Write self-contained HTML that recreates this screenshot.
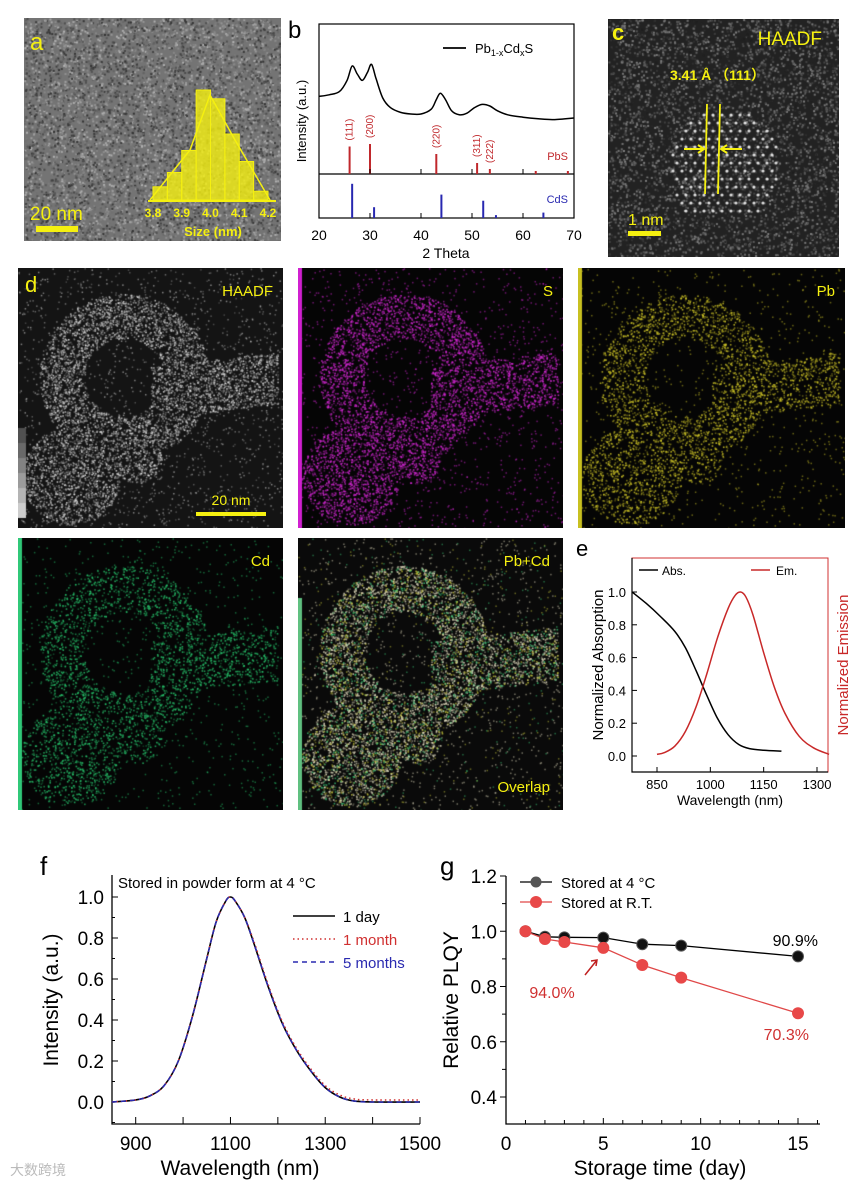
<!DOCTYPE html>
<html><head><meta charset="utf-8">
<style>
html,body{margin:0;padding:0;background:#fff;}
body{width:865px;height:1185px;position:relative;overflow:hidden;font-family:"Liberation Sans",Arial,sans-serif;}
canvas{position:absolute;}
svg{position:absolute;left:0;top:0;}
</style></head>
<body>
<canvas id="imgA" style="left:24px;top:18px" width="257" height="223"></canvas>
<canvas id="imgC" style="left:608px;top:19px" width="231" height="238"></canvas>
<canvas id="imgD1" style="left:18px;top:268px" width="265" height="260"></canvas>
<canvas id="imgD2" style="left:298px;top:268px" width="265" height="260"></canvas>
<canvas id="imgD3" style="left:578px;top:268px" width="267" height="260"></canvas>
<canvas id="imgD4" style="left:18px;top:538px" width="265" height="272"></canvas>
<canvas id="imgD5" style="left:298px;top:538px" width="265" height="272"></canvas>
<svg id="ov" width="865" height="1185" xmlns="http://www.w3.org/2000/svg" font-family="Liberation Sans, Arial, sans-serif"></svg>
<script>
// ---------- data ----------
const histBins=[3.8,3.85,3.9,3.95,4.0,4.05,4.1,4.15,4.2];
const histCounts=[0.12,0.25,0.45,1.0,0.92,0.6,0.35,0.08];
const xrdTheta=[20,22,24,25.5,26.5,27.5,28.5,29.5,30.3,31.2,32.5,34,36,38,40,42,43,43.8,44.8,46,47.5,49,50.5,52,53.5,55,57,60,63,66,70];
const xrdInt=[0.42,0.44,0.48,0.62,0.8,0.7,0.62,0.72,0.82,0.64,0.4,0.28,0.22,0.2,0.2,0.26,0.38,0.46,0.38,0.24,0.19,0.21,0.28,0.32,0.3,0.24,0.19,0.16,0.14,0.13,0.15];
const pbsPos=[26,30,43,51,53.5,62.5,68.8];
const pbsH=[0.55,0.6,0.4,0.22,0.1,0.06,0.06];
const pbsLabels=["(111)","(200)","(220)","(311)","(222)","",""];
const cdsPos=[26.5,30.8,44,52.2,54.7,64];
const cdsH=[0.95,0.3,0.65,0.48,0.08,0.15];
const absWl=[780,820,860,900,930,960,990,1020,1050,1080,1110,1150,1200];
const absVal=[1.0,0.93,0.85,0.76,0.66,0.52,0.37,0.23,0.13,0.07,0.045,0.035,0.03];
const emWl=[850,870,900,930,960,990,1020,1050,1070,1085,1100,1120,1150,1180,1210,1250,1290,1334];
const emVal=[0.01,0.02,0.06,0.15,0.3,0.5,0.72,0.9,0.98,1.0,0.97,0.86,0.63,0.42,0.26,0.12,0.05,0.01];
const fWl=[850,900,930,960,990,1020,1050,1070,1090,1100,1110,1130,1150,1180,1210,1240,1270,1300,1330,1360,1400,1500];
const fDay=[0,0.01,0.03,0.08,0.2,0.42,0.7,0.88,0.98,1.0,0.98,0.9,0.77,0.56,0.38,0.25,0.15,0.07,0.025,0.005,0,0];
const fMonth=[0,0.01,0.03,0.08,0.2,0.42,0.7,0.88,0.98,1.0,0.98,0.9,0.78,0.57,0.39,0.26,0.16,0.08,0.035,0.015,0.01,0.01];
const fMonth5=[0,0.01,0.03,0.08,0.2,0.42,0.7,0.88,0.98,1.0,0.98,0.9,0.77,0.56,0.38,0.25,0.15,0.07,0.025,0.005,0,0];
const gDays=[1,2,3,5,7,9,15];
const g4C=[1.0,0.98,0.978,0.977,0.953,0.948,0.909];
const gRT=[1.0,0.972,0.961,0.94,0.878,0.832,0.703];

// ---------- helpers ----------
const S=document.getElementById('ov');const NS='http://www.w3.org/2000/svg';
function el(tag,a,txt){const e=document.createElementNS(NS,tag);for(const k in a)e.setAttribute(k,a[k]);if(txt!==undefined)e.textContent=txt;S.appendChild(e);return e;}
function tx(x,y,t,size,fill,anchor,extra){const e=el('text',Object.assign({x:x,y:y,'font-size':size,fill:fill||'#000','text-anchor':anchor||'start'},extra||{}),t);return e;}
function lin(d0,d1,p0,p1){return v=>p0+(v-d0)*(p1-p0)/(d1-d0);}
function pathOf(xs,ys,fx,fy){return xs.map((x,i)=>(i?'L':'M')+fx(x).toFixed(1)+' '+fy(ys[i]).toFixed(1)).join('');}
function smoothPath(xs,ys,fx,fy){const p=xs.map((x,i)=>[fx(x),fy(ys[i])]);let d='M'+p[0][0]+' '+p[0][1];for(let i=0;i<p.length-1;i++){const p0=p[i-1]||p[i],p1=p[i],p2=p[i+1],p3=p[i+2]||p2;const c1=[p1[0]+(p2[0]-p0[0])/6,p1[1]+(p2[1]-p0[1])/6],c2=[p2[0]-(p3[0]-p1[0])/6,p2[1]-(p3[1]-p1[1])/6];d+='C'+c1.join(' ')+' '+c2.join(' ')+' '+p2.join(' ');}return d;}

// ---------- micrograph textures ----------
let seed=7;function rnd(){seed=(seed*16807)%2147483647;return seed/2147483647;}
function inMask(u,v){const dx=u-0.4,dy=v-0.42,r=Math.sqrt(dx*dx+dy*dy);let m=0;
 if(r>0.15&&r<0.32&&v<0.7)m=1;
 if(u>0.5&&u<0.98&&v>0.32&&v<0.62&&Math.abs(v-0.48+(u-0.5)*0.12)<0.1)m=1;
 if((u-0.2)**2+(v-0.8)**2<0.035)m=1;if((u-0.45)**2*1.4+(v-0.72)**2<0.012)m=1;return m;}
function tem(id){const c=document.getElementById(id),x=c.getContext('2d'),w=c.width,h=c.height;x.fillStyle='#747474';x.fillRect(0,0,w,h);
 for(let i=0;i<8000;i++){const g=Math.floor(50+rnd()*130);x.fillStyle='rgb('+g+','+g+','+g+')';x.fillRect(rnd()*w,rnd()*h,2,2);}}
function map(id,col,dens,bg){const c=document.getElementById(id),x=c.getContext('2d'),w=c.width,h=c.height;x.fillStyle=bg||'#050505';x.fillRect(0,0,w,h);
 for(let i=0;i<dens;i++){const u=rnd(),v=rnd();const m=inMask(u,v);if(!m&&rnd()>0.1)continue;const a=m?(0.25+rnd()*0.6):0.5;
  const cc=typeof col==='function'?col():col;x.fillStyle='rgba('+cc+','+a+')';const s=m?1.6:1.5;x.fillRect(u*w,v*h,s,s);}}
tem('imgA');
(function(){const c=document.getElementById('imgC'),x=c.getContext('2d'),w=c.width,h=c.height;x.fillStyle='#222';x.fillRect(0,0,w,h);
 for(let i=0;i<5000;i++){const g=Math.floor(30+rnd()*100);x.fillStyle='rgb('+g+','+g+','+g+')';x.fillRect(rnd()*w,rnd()*h,2,2);}
 x.fillStyle='rgba(255,255,255,0.85)';for(let i=0;i<12;i++)for(let j=0;j<14;j++){const px=65+i*9+(j%2)*4,py=88+j*8;const dx=(px-118)/55,dy=(py-150)/62;if(dx*dx+dy*dy<1){x.beginPath();x.arc(px,py,1.6,0,6.3);x.fill();}}})();
map('imgD1',()=>{const g=Math.floor(110+rnd()*145);return g+','+g+','+g;},16000,'#141414');
map('imgD2','215,40,215',12000);
map('imgD3','210,200,40',9000);
map('imgD4','40,200,110',8000);
map('imgD5',()=>rnd()<0.6?'225,220,190':(rnd()<0.5?'60,200,120':'200,200,60'),16000,'#0a0a0a');
(function(){const c=document.getElementById('imgD1').getContext('2d');for(let i=0;i<6;i++){const g=80+i*25;c.fillStyle='rgb('+g+','+g+','+g+')';c.fillRect(0,160+i*15,8,15);}
 const s2=document.getElementById('imgD2').getContext('2d');s2.fillStyle='#d020d0';s2.fillRect(0,0,4,260);
 const p=document.getElementById('imgD3').getContext('2d');p.fillStyle='#c8c020';p.fillRect(0,0,4,260);
 const q=document.getElementById('imgD4').getContext('2d');q.fillStyle='#30c878';q.fillRect(0,0,4,272);
 const r=document.getElementById('imgD5').getContext('2d');r.fillStyle='#60c080';r.fillRect(0,60,4,212);})();

// ---------- panel a overlay ----------
const Y='#f5f010';
tx(30,50,'a',24,Y,'start',{});
const hx=lin(3.8,4.2,153,268),hy=v=>200-v*110;
histCounts.forEach((v,i)=>{const r=el('rect',{x:hx(histBins[i]),y:hy(v),width:hx(histBins[i+1])-hx(histBins[i]),height:200-hy(v),fill:Y,'fill-opacity':0.8,stroke:Y});});
el('path',{d:'M150 200L190 150L210 95L235 140L270 200',stroke:Y,fill:'none','stroke-width':1.5,});
el('line',{x1:148,y1:201,x2:276,y2:201,stroke:Y,'stroke-width':2});
["3.8","3.9","4.0","4.1","4.2"].forEach((t,i)=>tx(hx(3.8+i*0.1),217,t,12,Y,'middle',{'font-weight':'bold'}));
tx(213,236,'Size (nm)',13,Y,'middle',{'font-weight':'bold'});
tx(30,220,'20 nm',19,Y,'start',{});
el('rect',{x:36,y:226,width:42,height:6,fill:Y,});

// ---------- panel b ----------
tx(288,38,'b',24,'#000');
const bx=lin(20,70,319,574);
el('rect',{x:319,y:24,width:255,height:194,fill:'none',stroke:'#000','stroke-width':1.2,});
el('line',{x1:319,y1:174,x2:574,y2:174,stroke:'#000','stroke-width':1.2});
const by=lin(0,1,130,50);
el('path',{d:smoothPath(xrdTheta,xrdInt,bx,by),fill:'none',stroke:'#000','stroke-width':1.5,});
pbsPos.forEach((p,i)=>{const l=el('line',{x1:bx(p),y1:174,x2:bx(p),y2:174-pbsH[i]*50,stroke:'#c0282c','stroke-width':2});
 if(pbsLabels[i]){tx(0,0,pbsLabels[i],10,'#c0282c','start',{transform:'translate('+(bx(p)+3)+','+(174-pbsH[i]*50-6)+') rotate(-90)'});}});
tx(568,160,'PbS',11,'#c0282c','end');
cdsPos.forEach((p,i)=>{const l=el('line',{x1:bx(p),y1:218,x2:bx(p),y2:218-cdsH[i]*36,stroke:'#2828b0','stroke-width':2});});
tx(568,203,'CdS',11,'#2828b0','end');
[20,30,40,50,60,70].forEach(v=>{el('line',{x1:bx(v),y1:218,x2:bx(v),y2:213,stroke:'#000'});el('line',{x1:bx(v),y1:174,x2:bx(v),y2:169,stroke:'#000'});tx(bx(v),240,String(v),14,'#000','middle');});
tx(446,258,'2 Theta',14,'#000','middle',{});
tx(0,0,'Intensity (a.u.)',13,'#000','middle',{transform:'translate(306,121) rotate(-90)',});
el('line',{x1:443,y1:48,x2:466,y2:48,stroke:'#000','stroke-width':1.8});
const lg=tx(475,53,'Pb',13,'#000');lg.innerHTML='Pb<tspan font-size="9" dy="3">1-x</tspan><tspan dy="-3">Cd</tspan><tspan font-size="9" dy="3">x</tspan><tspan dy="-3">S</tspan>';

// ---------- panel c ----------
tx(612,40,'c',22,Y,'start',{'font-weight':'bold'});
tx(822,45,'HAADF',19,Y,'end');
tx(670,80,'3.41 Å （111）',14,Y,'start',{'font-weight':'bold','font-family':'Liberation Sans, Noto Sans CJK SC, sans-serif'});
el('line',{x1:707,y1:104,x2:705,y2:194,stroke:Y,'stroke-width':1.8});
el('line',{x1:720,y1:104,x2:718,y2:194,stroke:Y,'stroke-width':1.8});
el('path',{d:'M684 149L704 149M698 145L704 149L698 153M742 149L721 149M727 145L721 149L727 153',stroke:Y,fill:'none','stroke-width':2});
tx(628,225,'1 nm',16,Y);
el('rect',{x:628,y:231,width:33,height:5,fill:Y});

// ---------- panel d labels ----------
tx(25,292,'d',22,Y);
tx(273,296,'HAADF',15,Y,'end');
el('rect',{x:196,y:512,width:70,height:4,fill:Y});tx(231,505,'20 nm',14,Y,'middle');
tx(553,296,'S',15,Y,'end');tx(835,296,'Pb',15,Y,'end');
tx(270,566,'Cd',15,Y,'end');tx(550,566,'Pb+Cd',15,Y,'end');tx(550,792,'Overlap',15,Y,'end');

// ---------- panel e ----------
tx(576,556,'e',22,'#000');
const ex=lin(850,1300,657,817),ey=lin(0,1,756,592);
el('rect',{x:632,y:558,width:196,height:214,fill:'none',stroke:'#d03030','stroke-width':1,});
el('path',{d:'M632 558L632 772L828 772',fill:'none',stroke:'#000','stroke-width':1.2});
[0,0.2,0.4,0.6,0.8,1.0].forEach(v=>{el('line',{x1:632,y1:ey(v),x2:637,y2:ey(v),stroke:'#000'});tx(626,ey(v)+5,v.toFixed(1),13,'#000','end');});
[850,1000,1150,1300].forEach(v=>{el('line',{x1:ex(v),y1:772,x2:ex(v),y2:767,stroke:'#000'});tx(ex(v),789,String(v),13,'#000','middle');});
el('path',{d:smoothPath(absWl,absVal,ex,ey),fill:'none',stroke:'#000','stroke-width':1.5,});
el('path',{d:smoothPath(emWl,emVal,ex,ey),fill:'none',stroke:'#c82828','stroke-width':1.5,});
el('line',{x1:639,y1:570,x2:658,y2:570,stroke:'#000','stroke-width':1.5});tx(662,575,'Abs.',12,'#000');
el('line',{x1:751,y1:570,x2:770,y2:570,stroke:'#c82828','stroke-width':1.5});tx(776,575,'Em.',12,'#000');
tx(730,805,'Wavelength (nm)',14,'#000','middle');
tx(0,0,'Normalized Absorption',15,'#000','middle',{transform:'translate(603,665) rotate(-90)'});
tx(0,0,'Normalized Emission',15,'#c82828','middle',{transform:'translate(848,665) rotate(-90)'});

// ---------- panel f ----------
tx(40,875,'f',26,'#000');
const fx=lin(850,1500,112,420),fy=lin(0,1,1102,897);
el('path',{d:'M112 875L112 1124L420 1124',fill:'none',stroke:'#000','stroke-width':1.3});
[0,0.2,0.4,0.6,0.8,1.0].forEach(v=>{el('line',{x1:112,y1:fy(v),x2:118,y2:fy(v),stroke:'#000'});tx(104,fy(v)+7,v.toFixed(1),19,'#000','end');});
[0.1,0.3,0.5,0.7,0.9,-0.1].forEach(v=>el('line',{x1:112,y1:fy(v),x2:115,y2:fy(v),stroke:'#000'}));
[900,1100,1300,1500].forEach(v=>{el('line',{x1:fx(v),y1:1124,x2:fx(v),y2:1117,stroke:'#000'});tx(fx(v),1150,String(v),19,'#000','middle');});
[1000,1200,1400].forEach(v=>el('line',{x1:fx(v),y1:1124,x2:fx(v),y2:1117,stroke:'#000'}));
el('path',{d:smoothPath(fWl,fDay,fx,fy),fill:'none',stroke:'#000','stroke-width':1.6,});
el('path',{d:smoothPath(fWl,fMonth,fx,fy),fill:'none',stroke:'#d03030','stroke-width':1.5,'stroke-dasharray':'1.5 3',});
el('path',{d:smoothPath(fWl,fMonth5,fx,fy),fill:'none',stroke:'#2a2ab0','stroke-width':1.5,'stroke-dasharray':'5 4',});
tx(118,888,'Stored in powder form at 4 °C',15,'#000');
el('line',{x1:293,y1:916,x2:335,y2:916,stroke:'#000','stroke-width':1.6});tx(343,922,'1 day',15,'#000');
el('line',{x1:293,y1:939,x2:335,y2:939,stroke:'#d03030','stroke-width':1.5,'stroke-dasharray':'1.5 3'});tx(343,945,'1 month',15,'#d03030');
el('line',{x1:293,y1:962,x2:335,y2:962,stroke:'#2a2ab0','stroke-width':1.5,'stroke-dasharray':'5 4'});tx(343,968,'5 months',15,'#2a2ab0');
tx(240,1175,'Wavelength (nm)',21,'#000','middle');
tx(0,0,'Intensity (a.u.)',21,'#000','middle',{transform:'translate(58,1000) rotate(-90)'});
tx(10,1175,'大数跨境',14,'#bbb','start',{'font-family':'Liberation Sans, Noto Sans CJK SC, sans-serif'});

// ---------- panel g ----------
tx(440,875,'g',26,'#000');
const gx=lin(0,15,506,798),gy=lin(0.4,1.2,1097,876);
el('path',{d:'M506 876L506 1124L820 1124',fill:'none',stroke:'#000','stroke-width':1.3});
[0.4,0.6,0.8,1.0,1.2].forEach(v=>{el('line',{x1:506,y1:gy(v),x2:500,y2:gy(v),stroke:'#000'});tx(497,gy(v)+7,v.toFixed(1),19,'#000','end');});
[0.5,0.7,0.9,1.1].forEach(v=>el('line',{x1:506,y1:gy(v),x2:502,y2:gy(v),stroke:'#000'}));
for(let d=0;d<=16;d++){const mj=d%5===0;el('line',{x1:gx(d),y1:1124,x2:gx(d),y2:mj?1118:1120,stroke:'#000'});if(mj)tx(gx(d),1150,String(d),19,'#000','middle');}
el('path',{d:pathOf(gDays,g4C,gx,gy),fill:'none',stroke:'#000','stroke-width':1.3,});
el('path',{d:pathOf(gDays,gRT,gx,gy),fill:'none',stroke:'#e04848','stroke-width':1.3,});
gDays.forEach((d,i)=>{const c=el('circle',{cx:gx(d),cy:gy(g4C[i]),r:5.5,fill:'#111',stroke:'#555'});});
gDays.forEach((d,i)=>{const c=el('circle',{cx:gx(d),cy:gy(gRT[i]),r:6,fill:'#e84848'});});
el('line',{x1:520,y1:882,x2:552,y2:882,stroke:'#000','stroke-width':1.3});el('circle',{cx:536,cy:882,r:5.5,fill:'#555'});tx(561,888,'Stored at 4 °C',15,'#000');
el('line',{x1:520,y1:902,x2:552,y2:902,stroke:'#e04848','stroke-width':1.3});el('circle',{cx:536,cy:902,r:6,fill:'#e84848'});tx(561,908,'Stored at R.T.',15,'#000');
tx(818,946,'90.9%',16,'#000','end');
tx(809,1040,'70.3%',16,'#d03030','end');
tx(552,998,'94.0%',16,'#d03030','middle');
el('path',{d:'M585 975L597 960M591 961L597 960L596 966',stroke:'#c02020',fill:'none','stroke-width':1.5});
tx(660,1175,'Storage time (day)',21,'#000','middle');
tx(0,0,'Relative PLQY',21,'#000','middle',{transform:'translate(458,1000) rotate(-90)'});
</script>
</body></html>
